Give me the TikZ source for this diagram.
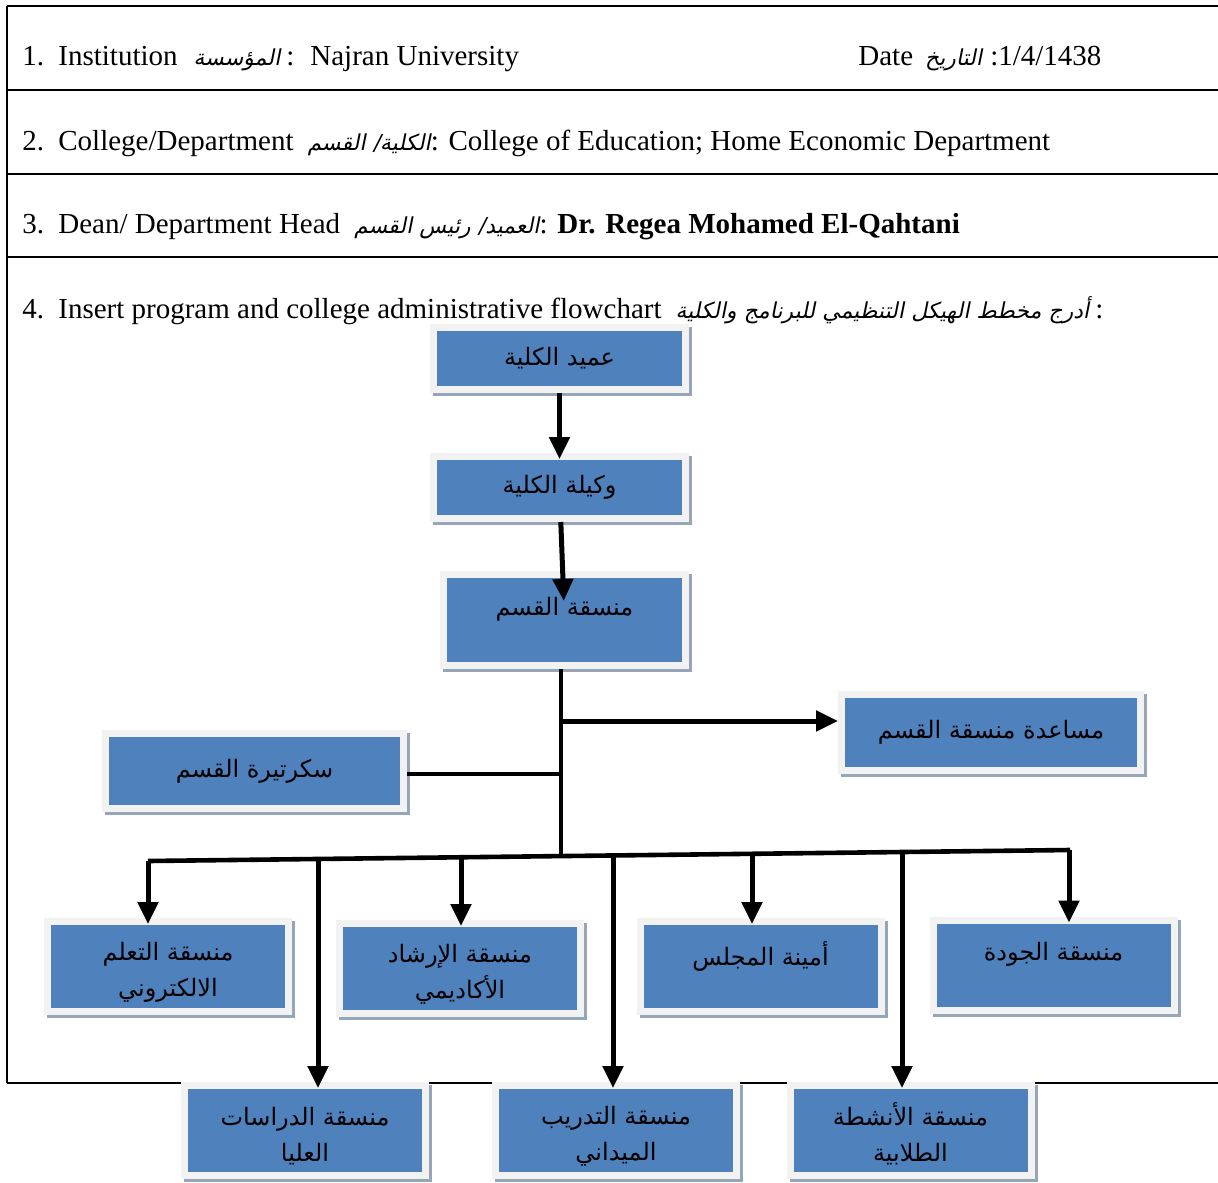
\documentclass[tikz,border=0pt]{standalone}
\usepackage{fontspec}
\setmainfont{Liberation Serif}
\newfontfamily\arabicfont[Script=Arabic]{DejaVu Sans}
\newfontfamily\arabicslant[Script=Arabic,FakeSlant=0.2]{DejaVu Sans}
\TeXXeTstate=1
\usetikzlibrary{arrows.meta}
\definecolor{boxblue}{HTML}{4F81BD}
\definecolor{boxrim}{HTML}{F2F2F2}
\definecolor{boxshade}{HTML}{97A5B9}
\newcommand{\arhead}[1]{{\arabicslant\fontsize{11}{13}\selectfont\beginR #1\endR}}
\newcommand{\arline}[1]{\beginR #1\endR}
\newcommand{\twolines}[2]{\rule{0pt}{15pt}\arline{#1}\\\arline{#2}}
\newcommand{\topline}[1]{\arline{#1}\\[-10pt]\strut}

\begin{document}
\begin{tikzpicture}[x=0.5pt,y=-0.5pt,
  unit/.style={draw=boxrim,fill=boxblue,line width=3.5pt,inner sep=2pt,
    align=center,font=\arabicfont\fontsize{12}{18}\selectfont,
    minimum width=120.5pt,minimum height=45pt,
    preaction={draw=boxshade,fill=boxshade,transform canvas={xshift=1.5pt,yshift=-1.5pt}}},
  link/.style={line width=2.5pt,-{Triangle[width=10pt,length=11pt]}},
  trunk/.style={line width=2.3pt},
  rule/.style={line width=1pt},
  row/.style={anchor=west,inner sep=0pt,font=\fontsize{14.5}{17}\selectfont}]
\useasboundingbox (0,0) rectangle (1218,1182);

% table frame
\draw[rule] (7,6) -- (1218,6);
\draw[rule] (7,6) -- (7,1083);
\draw[rule] (7,90) -- (1218,90);
\draw[rule] (7,174) -- (1218,174);
\draw[rule] (7,257) -- (1218,257);
\draw[rule] (7,1083) -- (1218,1083);

% header rows
\node[row] (inst) at (22,59) {\makebox[18pt][l]{1.}Institution\hspace{8pt}\arhead{المؤسسة}\hspace{3pt}:\hspace{8pt}Najran University};
\node[row] (date) at (858,59) {Date\hspace{6pt}\arhead{التاريخ}\hspace{4pt}:1/4/1438};
\node[row] (dept) at (22,143) {\makebox[18pt][l]{2.}College/Department\hspace{7pt}\arhead{الكلية/ القسم}: College of Education; Home Economic Department};
\node[row] (head) at (22,227) {\makebox[18pt][l]{3.}Dean/ Department Head\hspace{7pt}\arhead{العميد/ رئيس القسم}: \textbf{Dr. Regea Mohamed El-Qahtani}};
\node[row] (chart) at (22,311) {\makebox[18pt][l]{4.}Insert program and college administrative flowchart\hspace{7pt}\arhead{أدرج مخطط الهيكل التنظيمي للبرنامج والكلية}\hspace{3pt}:};

% boxes
\node[unit,minimum width=126pt,minimum height=31pt] (dean) at (559.5,358.5) {\arline{عميد الكلية}};
\node[unit,minimum width=126pt,minimum height=31pt] (vice) at (559.5,487.5) {\arline{وكيلة الكلية}};
\node[unit,minimum width=121pt,minimum height=45.5pt] (coord) at (564.5,620) {\topline{منسقة القسم}};
\node[unit,minimum width=149.5pt,minimum height=38pt] (assist) at (991,732.5) {\arline{مساعدة منسقة القسم}};
\node[unit,minimum width=149pt,minimum height=37.5pt] (secr) at (254.5,771) {\arline{سكرتيرة القسم}};
\node[unit] (elearn) at (168,966.5) {\twolines{منسقة التعلم}{الالكتروني}};
\node[unit] (advis) at (460,968.5) {\twolines{منسقة الإرشاد}{الأكاديمي}};
\node[unit] (board) at (760.5,966.5) {\topline{أمينة المجلس}};
\node[unit] (quality) at (1053.5,965) {\topline{منسقة الجودة}};
\node[unit] (grad) at (305,1130.5) {\twolines{منسقة الدراسات}{العليا}};
\node[unit] (field) at (616,1130.5) {\twolines{منسقة التدريب}{الميداني}};
\node[unit] (activ) at (910.5,1130.5) {\twolines{منسقة الأنشطة}{الطلابية}};

% connectors
\draw[link,shorten >=-3pt] (dean) -- (vice);
\draw[link,shorten >=-15pt] (vice) -- (coord);
\coordinate (hub) at (561,855);
\coordinate (tr) at (561,721);
\coordinate (tl) at (561,774);
\draw[trunk] (hub |- coord.south) -- (hub);
\draw[link] (tr) -- (tr -| assist.west);
\draw[trunk] (tl) -- (tl -| secr.east);
\coordinate (busl) at (148,861);
\coordinate (busr) at (1070,850);
\draw[trunk] (busl) -- (busr);
\foreach \x/\y/\t [count=\i] in {148/861/elearn,318/859/grad,461/857/advis,613/855.5/field,752/854/board,902/852/activ,1069/850/quality}
{
  \coordinate (drop\i) at (\x,\y);
  \draw[link,shorten >=-3pt] (drop\i) -- (drop\i |- \t.north);
}

\end{tikzpicture}
\end{document}
